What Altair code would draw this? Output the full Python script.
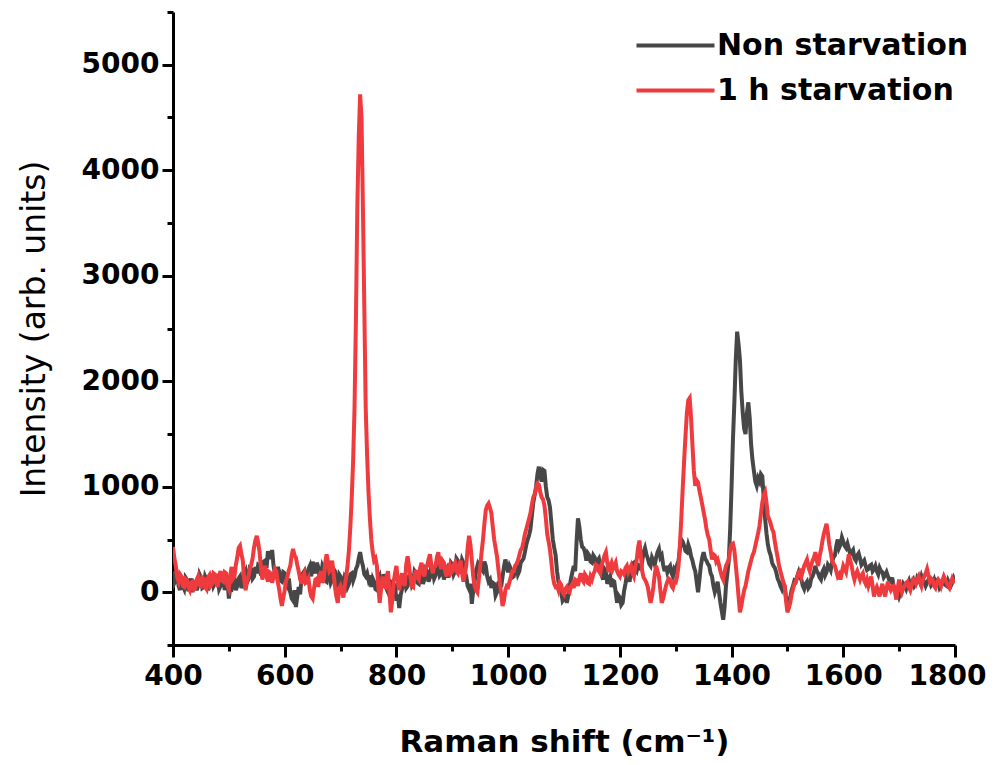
import altair as alt
import pandas as pd

# Raman shift positions (cm-1): readings every 5 cm-1, plus readings halfway between them
raman_shift = list(range(400, 1805, 5))
raman_shift_mid = [s + 2.5 for s in range(400, 1800, 5)]

# Intensity, "Non starvation" (dark grey), at raman_shift
non_starvation = [
    200, 120, 60, 150, 30, 120, 80, 0, 110, 60,            # 400-445
    140, 50, 120, 70, 150, 90, 130, 60, 140, 80,           # 450-495
    -60, 30, 120, 60, 150, 80, 200, 120, 220, 150,         # 500-545
    180, 250, 200, 300, 390, 330, 250, 150, 200, 100,      # 550-595
    180, 60, 0, -80, -140, 50, 120, 200, 130, 250,         # 600-645
    290, 180, 240, 150, 220, 100, 180, 120, 200, 80,       # 650-695
    150, 60, 130, 80, 180, 150, 250, 380, 250, 150,        # 700-745
    120, 50, 100, 20, 150, 80, 120, 0, 100, 50,            # 750-795
    -80, -150, 30, 120, 60, 150, 100, 180, 80, 160,        # 800-845
    120, 200, 140, 220, 160, 250, 180, 120, 230, 180,      # 850-895
    260, 200, 300, 220, 280, 150, 30, -110, 100, 250,      # 900-945
    300, 200, 250, 100, 40, 80, 0, 100, 150, 310,          # 950-995
    190, 220, 150, 250, 200, 300, 380, 500, 600, 850,      # 1000-1045
    1000, 1190, 1050, 1150, 900, 800, 500, 350, 100, 0,    # 1050-1095
    -60, -100, 50, 190, 200, 700, 500, 420, 300, 350,      # 1100-1145
    280, 330, 300, 250, 120, 200, 120, 50, 100, -100,      # 1150-1195
    -50, -100, 80, 150, 220, 280, 200, 250, 300, 420,      # 1200-1245
    320, 250, 300, 330, 410, 350, 200, 190, 250, 150,      # 1250-1295
    200, 300, 500, 440, 380, 410, 300, 200, 0, 250,        # 1300-1345
    380, 300, 250, 150, 0, 100, -100, -260, 60, 300,       # 1350-1395
    1000, 1800, 2470, 2200, 1700, 1500, 1800, 1400, 1150, 1010,  # 1400-1445
    1050, 1100, 700, 450, 350, 250, 190, 100, 30, 60,      # 1450-1495
    -130, -50, 60, 100, 190, 120, 30, 100, 60, 150,        # 1500-1545
    250, 180, 120, 220, 190, 240, 290, 350, 500, 450,      # 1550-1595
    480, 420, 410, 380, 320, 350, 320, 280, 250, 220,      # 1600-1645
    260, 220, 200, 230, 190, 160, 150, 100, 60, 20,        # 1650-1695
    -40, 20, 60, 80, 60, 120, 80, 120, 150, 100,           # 1700-1745
    90, 130, 90, 60, 100, 60, 120, 60, 80, 90,             # 1750-1795
    90,                                                    # 1800
]
# "Non starvation" at raman_shift_mid
non_starvation_mid = [
    90, 180, 20, 60, 140, 10, 130, 70, 20, 170,            # 402.5-447.5
    40, 150, 20, 160, 60, 170, 30, 150, 20, 120,           # 452.5-497.5
    40, 100, 20, 130, 40, 170, 90, 230, 130, 240,          # 502.5-547.5
    260, 160, 290, 230, 330, 400, 180, 240, 110, 190,      # 552.5-597.5
    90, 130, -60, 20, -40, -20, 180, 90, 220, 150,         # 602.5-647.5
    220, 280, 140, 250, 110, 210, 90, 220, 60, 170,        # 652.5-697.5
    70, 150, 50, 170, 110, 220, 320, 300, 170, 180,        # 702.5-747.5
    160, 130, 30, 120, 50, 170, 30, 110, 0, 60,            # 752.5-797.5
    -20, -30, 120, 40, 150, 70, 200, 90, 170, 80,          # 802.5-847.5
    220, 100, 250, 130, 280, 160, 240, 210, 140, 280,      # 852.5-897.5
    170, 320, 180, 310, 190, 60, 80, 20, 200, 200,         # 902.5-947.5
    220, 290, 150, 120, 90, -30, 90, 50, 240, 250,         # 952.5-997.5
    250, 140, 230, 170, 280, 320, 450, 540, 730, 920,      # 1002.5-1047.5
    1120, 1100, 1160, 1000, 870, 650, 420, 200, 60, -80,   # 1052.5-1097.5
    -20, -40, 130, 250, 480, 620, 430, 380, 370, 290,      # 1102.5-1147.5
    350, 270, 320, 160, 220, 80, 150, 110, 0, -30,         # 1152.5-1197.5
    -120, 10, 160, 100, 270, 220, 260, 210, 380, 360,      # 1202.5-1247.5
    270, 330, 260, 380, 330, 260, 250, 230, 180, 220,      # 1252.5-1297.5
    260, 410, 480, 390, 450, 340, 240, 100, 120, 330,      # 1302.5-1347.5
    320, 270, 180, 60, 40, 0, -180, -140, 180, 600,        # 1352.5-1397.5
    1450, 2200, 2350, 1900, 1550, 1700, 1650, 1250, 1050, 1080,  # 1402.5-1447.5
    1120, 900, 560, 390, 280, 230, 130, 60, 80, -50,       # 1452.5-1497.5
    -60, 20, 110, 150, 140, 60, 80, 40, 130, 190,          # 1502.5-1547.5
    200, 140, 190, 160, 260, 210, 330, 440, 420, 520,      # 1552.5-1597.5
    440, 460, 360, 400, 300, 370, 260, 300, 210, 250,      # 1602.5-1647.5
    200, 250, 170, 200, 140, 190, 110, 140, 30, 10,        # 1652.5-1697.5
    0, 80, 30, 110, 100, 60, 140, 90, 110, 60,             # 1702.5-1747.5
    120, 70, 120, 110, 40, 110, 70, 110, 60, 130,          # 1752.5-1797.5
]

# Intensity, "1 h starvation" (red), at raman_shift
starvation_1h = [
    430, 250, 100, 150, 50, 120, 20, 100, 40, 150,         # 400-445
    60, 130, 30, 160, 80, 170, 50, 200, 100, 180,          # 450-495
    30, 240, 150, 330, 440, 300, 20, 150, 260, 420,        # 500-545
    535, 380, 120, 250, 100, 180, 150, 200, 30, -130,      # 550-595
    20, 150, 250, 410, 330, 200, 80, 180, 100, 20,         # 600-645
    -60, 120, 50, 200, 130, 360, 200, 300, 50, -100,       # 650-695
    60, -50, 150, 400, 900, 1750, 3650, 4720, 3650, 1750,  # 700-745
    950, 500, 300, 250, -100, 150, 50, 200, -190, 100,     # 750-795
    250, 20, 180, 60, 340, 150, 50, 210, 120, 280,         # 800-845
    150, 250, 360, 180, 250, 380, 220, 280, 150, 260,      # 850-895
    200, 280, 180, 300, 100, 250, 535, 300, 60, 0,         # 900-945
    250, 500, 780, 840, 750, 500, 340, 100, -130, 20,      # 950-995
    50, 150, 200, 270, 350, 420, 550, 650, 750, 900,       # 1000-1045
    980, 1020, 900, 820, 550, 400, 150, 50, 20, 70,        # 1050-1095
    -20, 50, 0, 80, 120, 60, 180, 100, 150, 80,            # 1100-1145
    120, 200, 250, 180, 300, 380, 190, 280, 250, 200,      # 1150-1195
    150, 190, 230, 190, 250, 150, 300, 490, 200, 120,      # 1200-1245
    50, -100, 50, 250, 150, -100, 0, 100, 120, 40,         # 1250-1295
    95, 250, 700, 1240, 1700, 1840, 1390, 1010, 1040, 900, # 1300-1345
    760, 600, 500, 310, 350, 310, 200, 120, 250, 310,      # 1350-1395
    450, 400, 120, -190, -50, 60, 200, 300, 380, 500,      # 1400-1445
    630, 850, 950, 720, 650, 570, 400, 250, 150, 60,       # 1450-1495
    -190, -100, 30, 100, 190, 150, 250, 310, 200, 300,     # 1500-1545
    380, 250, 400, 550, 650, 450, 300, 250, 150, 120,      # 1550-1595
    250, 190, 360, 250, 120, 200, 120, 180, 80, 60,        # 1600-1645
    150, -40, 50, -40, 80, -40, 100, 20, 60, -70,          # 1650-1695
    120, 0, 60, 100, 20, 120, 80, 150, 60, 150,            # 1700-1745
    220, 100, 120, 40, 120, 60, 150, 90, 40, 130,          # 1750-1795
    90,                                                    # 1800
]
# "1 h starvation" at raman_shift_mid
starvation_1h_mid = [
    320, 140, 170, 60, 130, 50, 90, 30, 120, 70,           # 402.5-447.5
    140, 50, 140, 60, 180, 90, 160, 110, 190, 60,          # 452.5-497.5
    160, 130, 260, 420, 360, 120, 110, 220, 320, 490,      # 502.5-547.5
    470, 230, 200, 150, 190, 90, 220, 100, -60, -50,       # 552.5-597.5
    110, 210, 350, 350, 260, 130, 150, 90, 130, -40,       # 602.5-647.5
    40, 130, 160, 90, 280, 290, 220, 170, -40, 30,         # 652.5-697.5
    20, 60, 250, 620, 1250, 2600, 4300, 4500, 2700, 1300,  # 702.5-747.5
    700, 380, 320, 60, 30, 60, 150, 0, -80, 180,           # 752.5-797.5
    110, 120, 90, 260, 250, 60, 160, 140, 230, 200,        # 802.5-847.5
    230, 310, 260, 240, 330, 280, 300, 190, 240, 180,      # 852.5-897.5
    260, 200, 260, 180, 170, 420, 450, 150, 20, 120,       # 902.5-947.5
    380, 650, 820, 800, 620, 420, 220, -20, -80, 60,       # 952.5-997.5
    100, 200, 250, 300, 400, 480, 600, 700, 830, 930,      # 1002.5-1047.5
    1030, 950, 880, 700, 480, 280, 80, 60, 90, 0,          # 1052.5-1097.5
    30, 10, 60, 40, 110, 130, 120, 170, 90, 150,           # 1102.5-1147.5
    170, 260, 200, 260, 350, 280, 250, 220, 280, 170,      # 1152.5-1197.5
    200, 170, 250, 220, 180, 240, 420, 350, 140, 90,       # 1202.5-1247.5
    -30, -40, 170, 200, 20, -60, 60, 130, 60, 100,         # 1252.5-1297.5
    150, 450, 980, 1480, 1820, 1650, 1150, 1060, 960, 830, # 1302.5-1347.5
    690, 540, 400, 360, 290, 260, 150, 190, 280, 400,      # 1352.5-1397.5
    460, 260, -40, -130, 20, 130, 250, 350, 440, 560,      # 1402.5-1447.5
    740, 920, 850, 690, 600, 480, 330, 200, 100, -80,      # 1452.5-1497.5
    -150, -20, 80, 140, 200, 200, 280, 240, 260, 330,      # 1502.5-1547.5
    300, 340, 480, 600, 560, 380, 270, 200, 170, 190,      # 1552.5-1597.5
    220, 280, 300, 170, 170, 160, 160, 110, 120, 100,      # 1602.5-1647.5
    60, 20, 10, 30, 10, 40, 50, 50, 0, 40,                 # 1652.5-1697.5
    50, 40, 90, 50, 70, 110, 120, 100, 120, 180,           # 1702.5-1747.5
    160, 130, 60, 90, 100, 110, 120, 60, 90, 100,          # 1752.5-1797.5
]

series_names = ["Non starvation", "1 h starvation"]
series_colors = ["#474747", "#EF3B3E"]

x_ticks = list(range(400, 1801, 100))
y_ticks = list(range(-500, 5501, 500))

n, m = len(raman_shift), len(raman_shift_mid)
df = pd.DataFrame({
    "shift": raman_shift + raman_shift_mid + raman_shift + raman_shift_mid,
    "intensity": non_starvation[:n] + non_starvation_mid[:m] + starvation_1h[:n] + starvation_1h_mid[:m],
    "series": [series_names[0]] * (n + m) + [series_names[1]] * (n + m),
}).sort_values(["series", "shift"])

FONT = "DejaVu Sans"

x_enc = alt.X(
    "shift:Q",
    scale=alt.Scale(domain=[400, 1800], nice=False, zero=False),
    axis=alt.Axis(
        title="Raman shift (cm⁻¹)",
        values=x_ticks,
        format="d",
        labelExpr="datum.value % 200 === 0 ? datum.label : ''",
        labelOverlap=False,
        labelFlush=False,
        labelOffset={"condition": {"test": "datum.value === 1800", "value": -8}, "value": 0},
        tickSize={"condition": {"test": "datum.value % 200 === 0", "value": 12}, "value": 6},
        labelPadding=5,
        titlePadding=37,
        titleFontSize=31,
        titleFontWeight="bold",
    ),
)
y_enc = alt.Y(
    "intensity:Q",
    scale=alt.Scale(domain=[-500, 5500], nice=False, zero=False),
    axis=alt.Axis(
        title="Intensity (arb. units)",
        values=y_ticks,
        format="d",
        labelExpr="datum.value % 1000 === 0 ? datum.label : ''",
        labelOverlap=False,
        labelFlush=False,
        tickSize={"condition": {"test": "datum.value % 1000 === 0", "value": 11}, "value": 6},
        labelPadding=3,
        titlePadding=30,
        titleFontSize=33,
        titleFontWeight="normal",
    ),
)
color_enc = alt.Color(
    "series:N",
    scale=alt.Scale(domain=series_names, range=series_colors),
    legend=alt.Legend(
        title=None,
        orient="none",
        legendX=481,
        legendY=12,
        symbolType="M-2,0H2",
        symbolSize=1521,
        symbolStrokeWidth=4,
        labelFont=FONT,
        labelFontSize=30,
        labelFontWeight="bold",
        labelColor="black",
        labelOffset=20,
        labelLimit=0,
        rowPadding=8,
        padding=0,
    ),
)

base = alt.Chart(df).mark_line(strokeWidth=4, clip=True).encode(
    x=x_enc, y=y_enc, color=color_enc
)
black_layer = base.transform_filter(alt.datum.series == series_names[0])
red_layer = base.transform_filter(alt.datum.series == series_names[1])

chart = (
    alt.layer(black_layer, red_layer)
    .properties(
        width=782,
        height=633,
        autosize=alt.AutoSizeParams(type="none"),
        padding={"left": 165, "top": 4, "right": 32, "bottom": 120},
    )
    .configure_view(stroke=None)
    .configure_axis(
        grid=False,
        domainColor="black",
        domainWidth=3,
        tickColor="black",
        tickWidth=3,
        labelFont=FONT,
        labelFontSize=28,
        labelFontWeight="bold",
        labelColor="black",
        titleFont=FONT,
        titleColor="black",
    )
)

chart.save("out.html", embed_options={"renderer": "svg", "actions": False})
